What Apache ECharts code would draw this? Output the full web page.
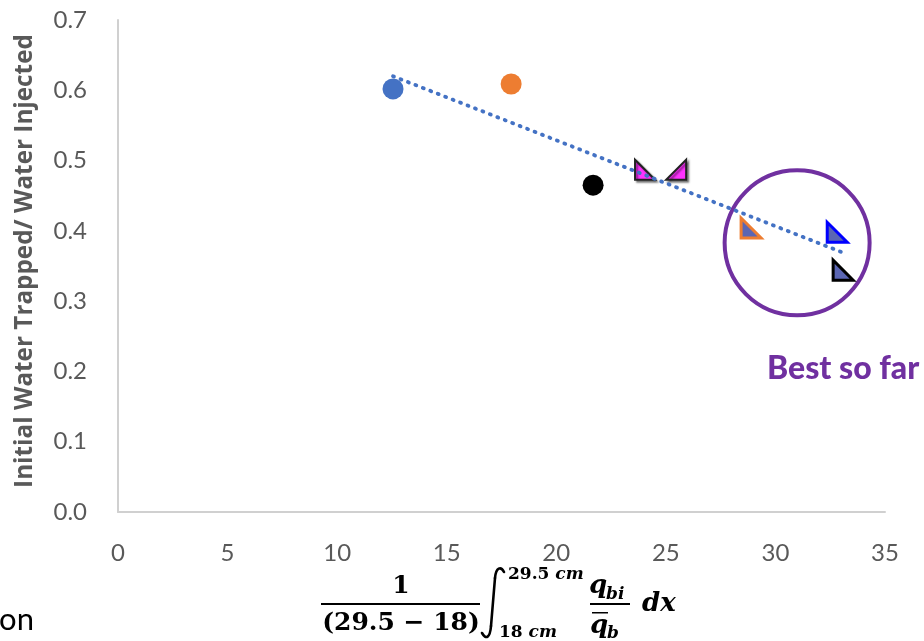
<!DOCTYPE html>
<html>
<head>
<meta charset="utf-8">
<script src="https://cdn.jsdelivr.net/npm/echarts@6/dist/echarts.min.js"></script>
<style>
html,body{margin:0;padding:0;background:#fff;}
#c{width:924px;height:641px;}
</style>
</head>
<body>
<div id="c"></div>
<script>
// ---- data ----
const xTickValues = [0, 5, 10, 15, 20, 25, 30, 35];
const yTickValues = [0, 0.1, 0.2, 0.3, 0.4, 0.5, 0.6, 0.7];
const blueCircle = [[12.55, 0.602]];
const orangeCircle = [[17.94, 0.609]];
const blackCircle = [[21.68, 0.465]];
const magentaTriangles = [[24.05, 0.487], [25.47, 0.487]];
const orangeEdgeTriangle = [[28.89, 0.404]];
const blueEdgeTriangle = [[32.82, 0.398]];
const blackEdgeTriangle = [[33.09, 0.344]];
const trendline = [[12.55, 0.620], [33.0, 0.370]];
const highlightRing = [[30.99, 0.383]];
const yAxisTitle = 'Initial Water Trapped/ Water Injected';
const annotation = 'Best so far';

// ---- chart ----
const triLeft = 'path://M0,0 L0,10 L10,10 Z';
const triRight = 'path://M10,0 L10,10 L0,10 Z';
const slate = '#5b66b3';
const tickFont = {fontFamily: 'Lato', fontSize: 24, color: '#595959'};
const serif = 'DejaVu Serif';
const intStroke = {fill: 'none', stroke: '#000', lineWidth: 2.6, lineCap: 'round'};

const chart = echarts.init(document.getElementById('c'), null, {renderer: 'canvas'});
chart.setOption({
  animation: false,
  backgroundColor: '#fff',
  grid: {left: 118, right: 39, top: 20, bottom: 129, containLabel: false},
  xAxis: {
    type: 'value', min: xTickValues[0], max: xTickValues[xTickValues.length - 1], interval: 5,
    axisLine: {show: true, lineStyle: {color: '#d0d0d0', width: 2}},
    axisTick: {show: false},
    splitLine: {show: false},
    axisLabel: Object.assign({margin: 29}, tickFont)
  },
  yAxis: {
    type: 'value', min: yTickValues[0], max: yTickValues[yTickValues.length - 1], interval: 0.1,
    axisLine: {show: true, lineStyle: {color: '#d0d0d0', width: 2}},
    axisTick: {show: false},
    splitLine: {show: false},
    axisLabel: Object.assign({margin: 31, formatter: v => v.toFixed(1)}, tickFont)
  },
  series: [
    {type: 'scatter', data: blueCircle, symbol: 'circle', symbolSize: 21, itemStyle: {color: '#4472C4', opacity: 1}, z: 2},
    {type: 'scatter', data: orangeCircle, symbol: 'circle', symbolSize: 21, itemStyle: {color: '#ED7D31', opacity: 1}, z: 2},
    {type: 'scatter', data: blackCircle, symbol: 'circle', symbolSize: 21, itemStyle: {color: '#000000', opacity: 1}, z: 2},
    {type: 'scatter', z: 2,
      data: magentaTriangles.map((p, i) => ({value: p, symbol: i === 0 ? triLeft : triRight})),
      symbolSize: 20,
      itemStyle: {color: '#ff33ff', opacity: 1, borderColor: '#222', borderWidth: 2,
        shadowColor: 'rgba(0,0,0,0.45)', shadowBlur: 2, shadowOffsetX: 2, shadowOffsetY: 2}},
    {type: 'scatter', data: orangeEdgeTriangle, symbol: triLeft, symbolSize: 20, z: 2,
      itemStyle: {color: slate, opacity: 1, borderColor: '#ED7D31', borderWidth: 3}},
    {type: 'scatter', data: blueEdgeTriangle, symbol: triLeft, symbolSize: 20, z: 2,
      itemStyle: {color: slate, opacity: 1, borderColor: '#0000ff', borderWidth: 3}},
    {type: 'scatter', data: blackEdgeTriangle, symbol: triLeft, symbolSize: 20, z: 2,
      itemStyle: {color: slate, opacity: 1, borderColor: '#000', borderWidth: 3}},
    {type: 'line', data: trendline, showSymbol: false, symbol: 'none', z: 5,
      lineStyle: {color: '#4472C4', width: 3.8, type: [1, 7], cap: 'round', opacity: 1}},
    {type: 'scatter', data: highlightRing, symbol: 'circle', symbolSize: 145, z: 1, silent: true,
      itemStyle: {color: 'rgba(0,0,0,0)', opacity: 1, borderColor: '#7030A0', borderWidth: 4}}
  ],
  graphic: [
    {type: 'text', x: 25, y: 261, rotation: Math.PI / 2,
      style: {text: yAxisTitle, x: 0, y: 0, align: 'center', verticalAlign: 'middle',
        font: 'bold 24.3px "Open Sans"', fill: '#595959'}},
    {type: 'text', x: 767, y: 369,
      style: {text: annotation, verticalAlign: 'middle', font: '900 32px Lato', fill: '#7030A0'}},
    {type: 'text', x: 34, y: 620,
      style: {text: 'on', align: 'right', verticalAlign: 'middle', font: '31px Lato', fill: '#000'}},
    // formula
    {type: 'text', x: 401, y: 586, style: {text: '1', align: 'center', verticalAlign: 'middle', font: 'bold 25px "' + serif + '"', fill: '#000'}},
    {type: 'rect', shape: {x: 321, y: 603, width: 159, height: 2}, style: {fill: '#000'}},
    {type: 'text', x: 401, y: 623, style: {text: '(29.5 \u2212 18)', align: 'center', verticalAlign: 'middle', font: 'bold 25px "' + serif + '"', fill: '#000'}},
    {type: 'bezierCurve', shape: {x1: 504, y1: 572, cpx1: 501, cpy1: 566, cpx2: 496, cpy2: 567, x2: 495, y2: 578}, style: intStroke},
    {type: 'line', shape: {x1: 495, y1: 578, x2: 491, y2: 626}, style: intStroke},
    {type: 'bezierCurve', shape: {x1: 491, y1: 626, cpx1: 490, cpy1: 638, cpx2: 486, cpy2: 640, x2: 482, y2: 633}, style: intStroke},
    {type: 'text', x: 508, y: 575, style: {text: '{a|29.5 }{b|cm}', verticalAlign: 'middle',
      rich: {a: {font: 'bold 17px "' + serif + '"', fill: '#000'}, b: {font: 'italic bold 17px "' + serif + '"', fill: '#000'}}}},
    {type: 'text', x: 499, y: 633, style: {text: '{a|18 }{b|cm}', verticalAlign: 'middle',
      rich: {a: {font: 'bold 17px "' + serif + '"', fill: '#000'}, b: {font: 'italic bold 17px "' + serif + '"', fill: '#000'}}}},
    {type: 'text', x: 589, y: 586, style: {text: 'q', verticalAlign: 'middle', font: 'italic bold 26px "' + serif + '"', fill: '#000'}},
    {type: 'text', x: 606, y: 595, style: {text: 'bi', verticalAlign: 'middle', font: 'italic bold 17px "' + serif + '"', fill: '#000'}},
    {type: 'rect', shape: {x: 590, y: 603, width: 40, height: 2}, style: {fill: '#000'}},
    {type: 'rect', shape: {x: 592, y: 612, width: 16, height: 1.5}, style: {fill: '#000'}},
    {type: 'text', x: 590, y: 626, style: {text: 'q', verticalAlign: 'middle', font: 'italic bold 26px "' + serif + '"', fill: '#000'}},
    {type: 'text', x: 607, y: 634, style: {text: 'b', verticalAlign: 'middle', font: 'italic bold 17px "' + serif + '"', fill: '#000'}},
    {type: 'text', x: 642, y: 604, style: {text: 'dx', verticalAlign: 'middle', font: 'italic bold 26px "' + serif + '"', fill: '#000'}}
  ]
});
</script>
</body>
</html>
